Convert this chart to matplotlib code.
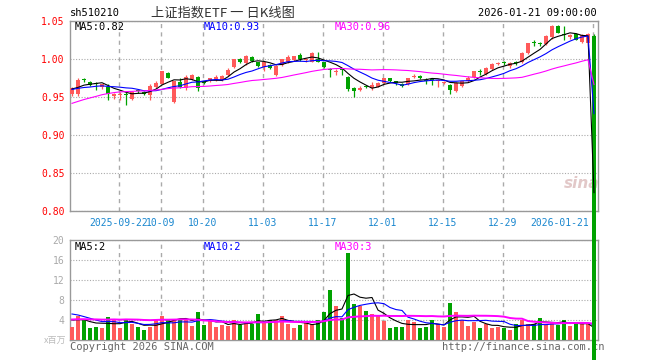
import matplotlib
matplotlib.use("Agg")
import matplotlib.pyplot as plt
import matplotlib.transforms as mtransforms
import numpy as np

# ---------------- data ----------------
tick_index = [8, 15, 22, 32, 42, 52, 62, 72, 87]
tick_labels = ["2025-09-22", "10-09", "10-20", "11-03", "11-17",
               "12-01", "12-15", "12-29", "2026-01-21"]

opens = [0.955, 0.954, 0.974, 0.970, 0.968, 0.963, 0.964, 0.952, 0.953, 0.954,
         0.948, 0.959, 0.957, 0.953, 0.963, 0.968, 0.982, 0.944, 0.970, 0.962,
         0.974, 0.977, 0.971, 0.971, 0.973, 0.973, 0.979, 0.990, 1.000, 0.995,
         1.003, 0.996, 0.990, 0.993, 0.979, 0.993, 0.997, 0.999, 1.006, 0.999,
         0.997, 1.001, 0.996, 0.987, 0.983, 0.987, 0.977, 0.962, 0.960, 0.964,
         0.962, 0.964, 0.969, 0.975, 0.971, 0.968, 0.967, 0.977, 0.977, 0.973,
         0.974, 0.971, 0.969, 0.966, 0.958, 0.965, 0.971, 0.977, 0.984, 0.981,
         0.987, 0.994, 0.996, 0.991, 0.996, 0.996, 1.008, 1.022, 1.021, 1.020,
         1.029, 1.044, 1.033, 1.029, 1.033, 1.023, 1.021, 1.031]
highs = [0.964, 0.975, 0.976, 0.971, 0.970, 0.968, 0.967, 0.956, 0.957, 0.957,
         0.958, 0.960, 0.958, 0.967, 0.971, 0.985, 0.983, 0.972, 0.975, 0.979,
         0.981, 0.978, 0.972, 0.976, 0.979, 0.979, 0.988, 1.001, 1.002, 1.006,
         1.005, 0.997, 0.997, 0.994, 0.992, 1.001, 1.006, 1.005, 1.008, 1.002,
         1.009, 1.009, 0.997, 0.988, 0.987, 0.989, 0.978, 0.963, 0.965, 0.965,
         0.970, 0.970, 0.976, 0.976, 0.972, 0.969, 0.976, 0.981, 0.979, 0.975,
         0.976, 0.974, 0.972, 0.967, 0.970, 0.972, 0.978, 0.985, 0.987, 0.990,
         0.995, 0.997, 0.998, 0.997, 0.998, 1.009, 1.022, 1.025, 1.023, 1.032,
         1.045, 1.045, 1.044, 1.033, 1.034, 1.033, 1.034, 1.033]
lows = [0.952, 0.952, 0.970, 0.965, 0.960, 0.961, 0.947, 0.948, 0.947, 0.940,
        0.946, 0.956, 0.953, 0.946, 0.962, 0.967, 0.975, 0.943, 0.962, 0.960,
        0.973, 0.958, 0.967, 0.970, 0.971, 0.972, 0.978, 0.989, 0.995, 0.993,
        0.997, 0.990, 0.984, 0.987, 0.978, 0.991, 0.995, 0.998, 0.998, 0.997,
        0.996, 0.996, 0.988, 0.977, 0.980, 0.979, 0.958, 0.951, 0.958, 0.962,
        0.960, 0.963, 0.968, 0.970, 0.966, 0.963, 0.966, 0.975, 0.974, 0.968,
        0.966, 0.964, 0.967, 0.955, 0.957, 0.964, 0.970, 0.976, 0.980, 0.980,
        0.986, 0.992, 0.992, 0.989, 0.993, 0.995, 1.007, 1.017, 1.018, 1.019,
        1.027, 1.034, 1.025, 1.027, 1.025, 1.022, 1.018, 0.000]
closes = [0.962, 0.973, 0.973, 0.966, 0.967, 0.967, 0.955, 0.954, 0.954, 0.953,
          0.957, 0.958, 0.955, 0.965, 0.969, 0.984, 0.976, 0.971, 0.964, 0.977,
          0.979, 0.962, 0.969, 0.975, 0.977, 0.978, 0.986, 1.000, 0.997, 1.004,
          0.998, 0.991, 0.996, 0.988, 0.991, 1.000, 1.003, 1.004, 1.000, 1.000,
          1.008, 0.997, 0.990, 0.986, 0.984, 0.986, 0.961, 0.958, 0.962, 0.963,
          0.966, 0.969, 0.975, 0.971, 0.969, 0.965, 0.975, 0.978, 0.976, 0.972,
          0.973, 0.973, 0.970, 0.960, 0.969, 0.971, 0.976, 0.984, 0.983, 0.988,
          0.994, 0.995, 0.995, 0.995, 0.995, 1.008, 1.021, 1.021, 1.020, 1.031,
          1.044, 1.035, 1.032, 1.032, 1.026, 1.032, 1.033, 0.000]
volumes = [2.7, 4.8, 4.3, 2.5, 2.7, 2.5, 4.6, 4.0, 2.5, 4.2,
           3.3, 2.7, 2.0, 2.7, 4.0, 4.8, 4.0, 4.2, 4.2, 4.3,
           2.8, 5.6, 3.0, 4.0, 2.7, 3.0, 2.8, 4.0, 3.0, 3.7,
           3.3, 5.2, 3.5, 4.0, 4.1, 4.8, 3.2, 2.5, 3.0, 3.5,
           3.2, 4.0, 5.7, 10.0, 6.8, 4.5, 17.5, 7.2, 6.8, 5.8,
           5.2, 4.9, 3.9, 2.4, 2.7, 2.7, 4.0, 3.6, 2.4, 2.7,
           4.0, 3.2, 2.7, 7.5, 5.7, 4.0, 2.8, 3.7, 2.5, 3.3,
           2.4, 2.7, 2.4, 2.0, 3.2, 4.1, 3.2, 3.2, 4.5, 3.0,
           3.7, 3.0, 4.0, 2.8, 3.2, 3.2, 3.2, 0.0]
# sessions before the visible window (only feed the moving averages)
prior_closes = [0.896, 0.899, 0.903, 0.906, 0.901, 0.909, 0.916, 0.926, 0.942, 0.948,
                0.945, 0.950, 0.947, 0.952, 0.955, 0.950, 0.948, 0.953, 0.957, 0.955,
                0.958, 0.962, 0.960, 0.957, 0.961, 0.963, 0.958, 0.960, 0.962]
prior_volumes = [3.2, 4.1, 3.5, 2.9, 3.8, 4.4, 3.1, 3.6, 3.0, 3.9,
                 3.3, 4.2, 3.7, 2.8, 3.4, 3.9, 3.5, 3.2, 3.8, 3.7,
                 6.8, 7.5, 5.9, 6.2, 5.6, 4.6, 4.1, 4.5, 4.1]
price_ticks = [0.80, 0.85, 0.90, 0.95, 1.00, 1.05]
vol_ticks = [4, 8, 12, 16, 20]
ma_price_text = ["MA5:0.82", "MA10:0.93", "MA30:0.96"]
ma_vol_text = ["MA5:2", "MA10:2", "MA30:3"]
ma_periods = [5, 10, 30]

# ---------------- style ----------------
RED = "#FF5A5A"
GREEN = "#00A200"
MA_COLORS = ["#000000", "#0000FF", "#FF00FF"]
GRID = "#AAAAAA"
SPINE = "#999999"
XLAB = "#1A87CF"
MONO = ["DejaVu Sans Mono", "Noto Sans CJK SC"]
CJK = ["Noto Sans CJK SC", "DejaVu Sans"]
plt.rcParams["font.family"] = MONO

W, H = 660, 360
fig = plt.figure(figsize=(W / 100, H / 100), dpi=100)
left_px, right_px = 70, 597.5
ax = fig.add_axes([left_px / W, 1 - 211.3 / H, (right_px - left_px) / W, 190 / H])
axv = fig.add_axes([left_px / W, 1 - 340 / H, (right_px - left_px) / W, 100 / H])
ax.set_zorder(5)
ax.patch.set_alpha(0)

o = np.array(opens); h = np.array(highs); l = np.array(lows); c = np.array(closes)
v = np.array(volumes)
n = len(c)
x = np.arange(n)
up = c >= o
cols = np.where(up, RED, GREEN)

def moving(full, p):
    s = np.convolve(full, np.ones(p) / p, mode="valid")
    return s[-n:]

allc = np.concatenate([prior_closes, c])
allv = np.concatenate([prior_volumes, v])

xlim = ((left_px - 72) / 6, (right_px - 72) / 6)
tick_pos = [t - 0.25 for t in tick_index]

for a in (ax, axv):
    a.set_xlim(*xlim)
    a.set_axisbelow(True)
    for sp in a.spines.values():
        sp.set_color(SPINE)
        sp.set_linewidth(1)
    a.set_xticks(tick_pos)
    a.xaxis.grid(True, color=GRID, linestyle=(0, (3, 3)), linewidth=1)
    a.yaxis.grid(True, color=GRID, linestyle=(0, (1, 1.5)), linewidth=0.8)
    a.tick_params(length=0)

# price panel
ax.set_ylim(0.80, 1.05)
ax.set_yticks(price_ticks)
ax.set_yticklabels(["%.2f" % t for t in price_ticks])
ax.tick_params(axis="y", labelcolor="#FF0000", labelsize=7, pad=4)
ax.set_xticklabels(tick_labels)
ax.tick_params(axis="x", labelcolor=XLAB, labelsize=7, pad=5)
last = ax.get_xticklabels()[-1]
last.set_horizontalalignment("right")
last.set_transform(last.get_transform() +
                   mtransforms.ScaledTranslation(-3 / 100, 0, fig.dpi_scale_trans))

ax.vlines(x, l, h, colors=cols, linewidth=0.9, clip_on=False, zorder=3)
body = np.maximum(np.abs(c - o), 0.0014)
ax.bar(x, body, bottom=np.minimum(o, c), width=0.82, color=cols,
       linewidth=0, clip_on=False, zorder=4)
for p, col in zip(ma_periods, MA_COLORS):
    ax.plot(x, moving(allc, p), color=col, linewidth=0.8, zorder=5)

# volume panel
axv.set_ylim(0, 20)
axv.set_yticks(vol_ticks)
axv.set_yticklabels([str(t) for t in vol_ticks])
axv.tick_params(axis="y", labelcolor="#AAAAAA", labelsize=7, pad=4)
axv.set_xticklabels([])
axv.bar(x, v, width=0.8, color=cols, linewidth=0, zorder=3)
for p, col in zip(ma_periods, MA_COLORS):
    lw = 1.4 if p == 30 else 0.8
    axv.plot(x, moving(allv, p), color=col, linewidth=lw, zorder=4)

# texts
def ftext(px, py, s, **kw):
    fig.text(px / W, 1 - py / H, s, **kw)

ftext(70, 13, "sh510210", fontsize=7.5, color="#000000", va="center", ha="left")
ftext(151, 13, "上证指数ETF 一 日K线图", fontsize=9.5, color="#333333",
      va="center", ha="left", family=CJK)
ftext(597, 13, "2026-01-21 09:00:00", fontsize=7.5, color="#000000",
      va="center", ha="right")
for s, col, px in zip(ma_price_text, MA_COLORS, [75, 204, 335]):
    ftext(px, 26.5, s, fontsize=7.5, color=col, va="center", ha="left", zorder=6)
for s, col, px in zip(ma_vol_text, MA_COLORS, [75, 204, 335]):
    ftext(px, 246.5, s, fontsize=7.5, color=col, va="center", ha="left", zorder=6)
ftext(66, 340, "x百万", fontsize=6.5, color="#BBBBBB", va="center", ha="right",
      family=CJK)
ftext(70, 347, "Copyright 2026 SINA.COM", fontsize=7.5, color="#666666",
      va="center", ha="left")
ftext(442, 347, "http://finance.sina.com.cn", fontsize=7.5, color="#666666",
      va="center", ha="left", zorder=-1)
ftext(582, 184, "sina", fontsize=11, color="#E2C8C8", va="center", ha="center",
      style="italic", weight="bold", family=["DejaVu Sans"], zorder=-1)

fig.savefig("out.png", dpi=100)
